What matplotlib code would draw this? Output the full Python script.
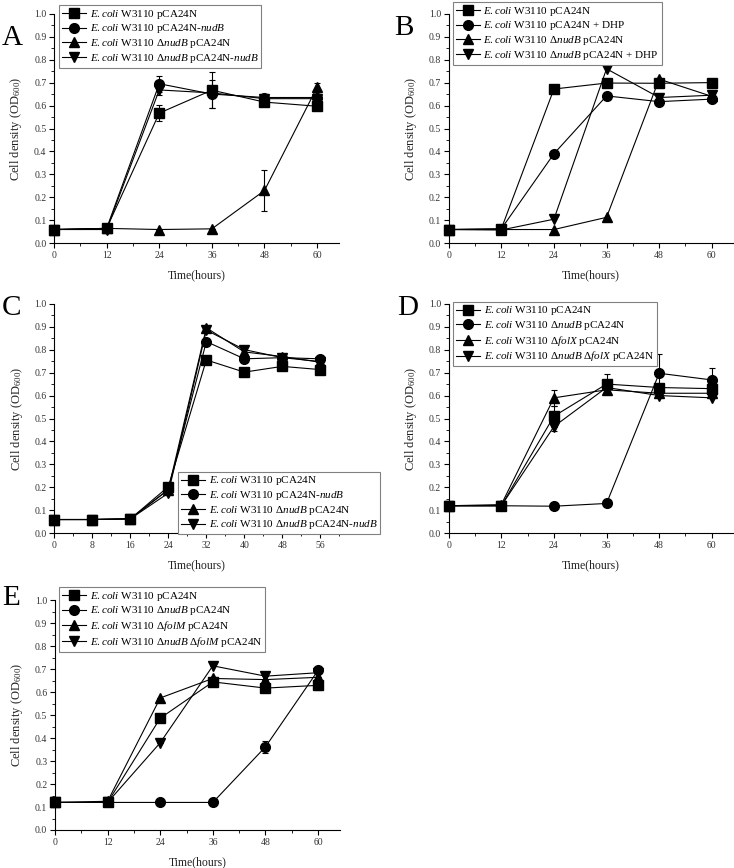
import matplotlib
matplotlib.use("Agg")
import matplotlib.pyplot as plt
from matplotlib.ticker import MultipleLocator, FormatStrFormatter

plt.rcParams['font.family'] = ['Liberation Serif', 'DejaVu Serif']
plt.rcParams['mathtext.fontset'] = 'custom'
plt.rcParams['mathtext.rm'] = 'Liberation Serif'
plt.rcParams['mathtext.it'] = 'Liberation Serif:italic'

# time points
t_6 = [0, 12, 24, 36, 48, 60]
t_c = [0, 8, 16, 24, 32, 40, 48, 56]

# panel A
a_labels = [r"$\it{E.coli}$ W3110 pCA24N",
            r"$\it{E.coli}$ W3110 pCA24N-$\it{nudB}$",
            r"$\it{E.coli}$ W3110 Δ$\it{nudB}$ pCA24N",
            r"$\it{E.coli}$ W3110 Δ$\it{nudB}$ pCA24N-$\it{nudB}$"]
a_vals = [[0.06, 0.065, 0.567, 0.667, 0.615, 0.597],
          [0.06, 0.065, 0.695, 0.650, 0.635, 0.635],
          [0.06, 0.065, 0.060, 0.063, 0.230, 0.680],
          [0.06, 0.060, 0.668, 0.655, 0.630, 0.630]]
a_err = [[0, 0, 0.035, 0.078, 0.015, 0.01],
         [0, 0, 0.035, 0.060, 0.010, 0.01],
         [0, 0, 0, 0, 0.088, 0.02],
         [0, 0, 0.02, 0.01, 0, 0]]

# panel B
b_labels = [r"$\it{E.coli}$ W3110 pCA24N",
            r"$\it{E.coli}$ W3110 pCA24N + DHP",
            r"$\it{E.coli}$ W3110 Δ$\it{nudB}$ pCA24N",
            r"$\it{E.coli}$ W3110 Δ$\it{nudB}$ pCA24N + DHP"]
b_vals = [[0.06, 0.063, 0.672, 0.698, 0.697, 0.700],
          [0.06, 0.063, 0.390, 0.642, 0.617, 0.628],
          [0.06, 0.060, 0.060, 0.113, 0.715, 0.640],
          [0.06, 0.058, 0.105, 0.760, 0.635, 0.645]]

# panel C
c_labels = a_labels
c_vals = [[0.06, 0.06, 0.063, 0.203, 0.755, 0.702, 0.727, 0.713],
          [0.06, 0.06, 0.063, 0.190, 0.835, 0.760, 0.765, 0.760],
          [0.06, 0.06, 0.063, 0.190, 0.895, 0.790, 0.770, 0.745],
          [0.06, 0.06, 0.063, 0.175, 0.885, 0.800, 0.765, 0.748]]

# panel D
d_labels = [r"$\it{E.coli}$ W3110 pCA24N",
            r"$\it{E.coli}$ W3110 Δ$\it{nudB}$ pCA24N",
            r"$\it{E.coli}$ W3110 Δ$\it{folX}$ pCA24N",
            r"$\it{E.coli}$ W3110 Δ$\it{nudB}$ Δ$\it{folX}$ pCA24N"]
d_vals = [[0.12, 0.120, 0.510, 0.650, 0.635, 0.630],
          [0.12, 0.120, 0.118, 0.130, 0.697, 0.668],
          [0.12, 0.125, 0.590, 0.625, 0.610, 0.610],
          [0.12, 0.120, 0.465, 0.635, 0.600, 0.590]]
d_err = [[0, 0, 0.045, 0.044, 0, 0],
         [0, 0, 0, 0, 0.082, 0.053],
         [0, 0, 0.035, 0.02, 0, 0],
         [0, 0, 0.02, 0, 0, 0]]

# panel E
e_labels = [r"$\it{E.coli}$ W3110 pCA24N",
            r"$\it{E.coli}$ W3110 Δ$\it{nudB}$ pCA24N",
            r"$\it{E.coli}$ W3110 Δ$\it{folM}$ pCA24N",
            r"$\it{E.coli}$ W3110 Δ$\it{nudB}$ Δ$\it{folM}$ pCA24N"]
e_vals = [[0.12, 0.120, 0.487, 0.645, 0.618, 0.630],
          [0.12, 0.120, 0.120, 0.120, 0.362, 0.695],
          [0.12, 0.125, 0.575, 0.660, 0.655, 0.665],
          [0.12, 0.120, 0.380, 0.715, 0.670, 0.685]]
e_err = [[0, 0, 0, 0, 0.012, 0.02],
         [0, 0, 0, 0, 0.025, 0.015],
         [0, 0, 0, 0, 0, 0],
         [0, 0, 0, 0, 0, 0]]

markers = ['s', 'o', '^', 'v']

fig = plt.figure(figsize=(7.34, 8.68), dpi=100)


def panel(rect, t, vals, errs, labels, xmax, xmajor, leg_xy, letter, letter_xy):
    ax = fig.add_axes(rect)
    for i in range(4):
        # error bars first, then line + markers on top
        if errs is not None:
            ax.errorbar(t, vals[i], yerr=errs[i], fmt='none', ecolor='black',
                        elinewidth=0.8, capsize=2, capthick=0.8,
                        clip_on=False, zorder=2)
        ax.plot(t, vals[i], color='black', marker=markers[i], markersize=7,
                linewidth=0.8, label=labels[i], clip_on=False, zorder=3)
    ax.set_xlim(0, xmax)
    ax.set_ylim(0, 1.0)
    ax.xaxis.set_major_locator(MultipleLocator(xmajor))
    ax.xaxis.set_minor_locator(MultipleLocator(xmajor / 2))
    ax.yaxis.set_major_locator(MultipleLocator(0.1))
    ax.yaxis.set_minor_locator(MultipleLocator(0.05))
    ax.yaxis.set_major_formatter(FormatStrFormatter('%.1f'))
    ax.spines['top'].set_visible(False)
    ax.spines['right'].set_visible(False)
    for s in ['left', 'bottom']:
        ax.spines[s].set_linewidth(0.8)
    ax.tick_params(which='major', direction='out', length=3.5, width=0.8,
                   labelsize=7, pad=2, labelcolor='#333333')
    ax.tick_params(which='minor', direction='out', length=2, width=0.6)
    ax.set_xlabel("Time(hours)", fontsize=8.5, labelpad=7, color='#222222')
    ax.set_ylabel("Cell density (OD$_{600}$)", fontsize=9, labelpad=7,
                  color='#222222')
    leg = ax.legend(loc='upper left', bbox_to_anchor=leg_xy,
                    bbox_transform=fig.transFigure, borderaxespad=0,
                    fontsize=8, frameon=True, fancybox=False,
                    edgecolor='gray', framealpha=1, handlelength=2.2,
                    handletextpad=0.3, labelspacing=0.15, borderpad=0.25)
    leg.get_frame().set_linewidth(0.8)
    fig.text(letter_xy[0], letter_xy[1], letter, fontsize=21, ha='left',
             va='baseline')
    return ax


w = 0.3883
h = 0.2645
panel([0.0736, 0.7197, w, h], t_6, a_vals, a_err, a_labels, 65, 12,
      (0.0804, 0.9942), "A", (0.003, 0.948))
panel([0.6113, 0.7197, w, h], t_6, b_vals, None, b_labels, 65, 12,
      (0.6168, 0.9977), "B", (0.537, 0.960))
panel([0.0740, 0.3856, w, h], t_c, c_vals, None, c_labels, 60, 8,
      (0.2425, 0.4566), "C", (0.003, 0.637))
panel([0.6113, 0.3856, w, h], t_6, d_vals, d_err, d_labels, 65, 12,
      (0.6172, 0.6524), "D", (0.541, 0.637))
panel([0.0749, 0.0438, w, h], t_6, e_vals, e_err, e_labels, 65, 12,
      (0.0804, 0.3237), "E", (0.003, 0.303))

fig.savefig("out.png", dpi=100)
